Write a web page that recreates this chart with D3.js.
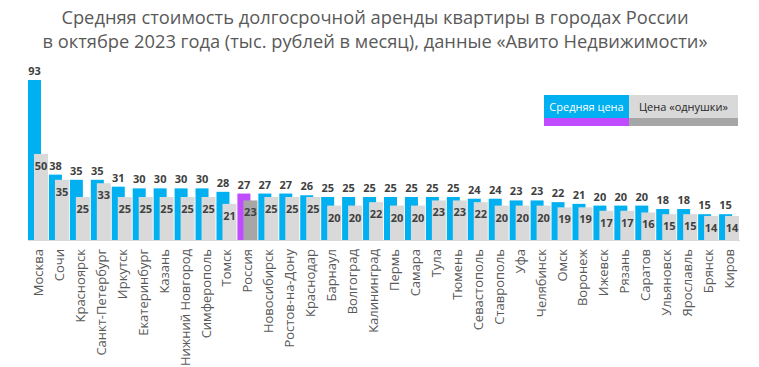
<!DOCTYPE html>
<html><head><meta charset="utf-8">
<script src="https://cdn.jsdelivr.net/npm/d3@7"></script>
<style>body{margin:0;background:#fff}svg{display:block}</style>
</head><body><svg id="c" width="759" height="367"></svg>
<script>
const categories = ["Москва","Сочи","Красноярск","Санкт-Петербург","Иркутск","Екатеринбург","Казань","Нижний Новгород","Симферополь","Томск","Россия","Новосибирск","Ростов-на-Дону","Краснодар","Барнаул","Волгоград","Калининград","Пермь","Самара","Тула","Тюмень","Севастополь","Ставрополь","Уфа","Челябинск","Омск","Воронеж","Ижевск","Рязань","Саратов","Ульяновск","Ярославль","Брянск","Киров"];
const avgPrice = [93,38,35,35,31,30,30,30,30,28,27,27,27,26,25,25,25,25,25,25,25,24,24,23,23,22,21,20,20,20,18,18,15,15];
const onePrice = [50,35,25,33,25,25,25,25,25,21,23,25,25,25,20,20,22,20,20,23,23,22,20,20,20,19,19,17,17,16,15,15,14,14];
const seriesNames = ["Средняя цена","Цена «однушки»"];
const titleLines = ["Средняя стоимость долгосрочной аренды квартиры в городах России","в октябре 2023 года (тыс. рублей в месяц), данные «Авито Недвижимости»"];
const highlight = "Россия";

const svg = d3.select("#c");
const font = "'Open Sans', sans-serif";
const x = d3.scaleBand().domain(categories).range([28, 740]).padding(0);
const y = d3.scaleLinear().domain([0, 93]).range([240, 80]);
const step = x.bandwidth();

svg.selectAll("text.title").data(titleLines).join("text")
  .attr("x", 375).attr("y", (d,i)=>24+i*24).attr("text-anchor","middle")
  .attr("font-family", font).attr("font-size", 18.3).attr("fill","#595959").text(d=>d);

// baseline
svg.append("line").attr("x1",28).attr("x2",740).attr("y1",240.5).attr("y2",240.5).attr("stroke","#d9d9d9");

const g = svg.append("g");
categories.forEach((c,i)=>{
  const hl = c===highlight;
  g.append("rect").attr("x", x(c)).attr("y", y(avgPrice[i])).attr("width", 13).attr("height", y(0)-y(avgPrice[i]))
    .attr("fill", hl ? "#bf4dff" : "#00b0f0");
  g.append("rect").attr("x", x(c)+6).attr("y", y(onePrice[i])).attr("width", 14).attr("height", y(0)-y(onePrice[i]))
    .attr("fill", hl ? "#a6a6a6" : "#d9d9d9");
  g.append("text").attr("x", x(c)+6.5).attr("y", y(avgPrice[i])-5).attr("text-anchor","middle")
    .attr("font-family", font).attr("font-weight","bold").attr("font-size",11).attr("fill","#404040").text(avgPrice[i]);
  g.append("text").attr("x", x(c)+13).attr("y", y(onePrice[i])+16).attr("text-anchor","middle")
    .attr("font-family", font).attr("font-weight","bold").attr("font-size",11).attr("fill","#404040").text(onePrice[i]);
  g.append("text").attr("transform", `translate(${x(c)+step/2+4.5},249) rotate(-90)`).attr("text-anchor","end")
    .attr("font-family", font).attr("font-size",13).attr("fill","#595959").text(c);
});

// legend
const lg = svg.append("g");
lg.append("rect").attr("x",544).attr("y",95).attr("width",85).attr("height",23).attr("fill","#00b0f0");
lg.append("rect").attr("x",544).attr("y",118).attr("width",85).attr("height",8).attr("fill","#bf4dff");
lg.append("rect").attr("x",629).attr("y",95).attr("width",109).attr("height",23).attr("fill","#d9d9d9");
lg.append("rect").attr("x",629).attr("y",118).attr("width",109).attr("height",8).attr("fill","#a6a6a6");
lg.append("text").attr("x",586.5).attr("y",111).attr("text-anchor","middle").attr("font-family",font).attr("font-size",11).attr("fill","#fff").text(seriesNames[0]);
lg.append("text").attr("x",683.5).attr("y",111).attr("text-anchor","middle").attr("font-family",font).attr("font-size",11).attr("fill","#262626").text(seriesNames[1]);
</script></body></html>
